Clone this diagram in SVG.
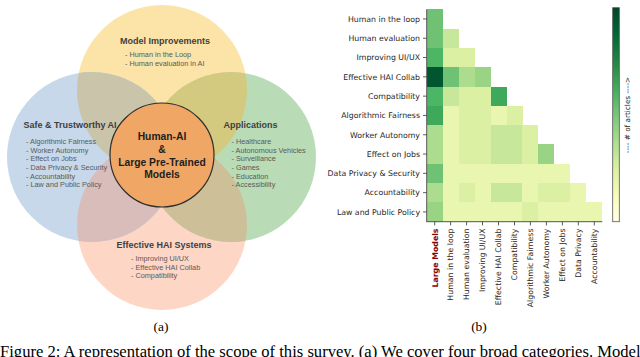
<svg xmlns="http://www.w3.org/2000/svg" width="640" height="357" viewBox="0 0 640 357">
<style>
.vt{font-family:"Liberation Sans",Arial,sans-serif;font-weight:bold;font-size:9px;fill:#3f3f3f;text-anchor:middle}
.vl{font-family:"Liberation Sans",Arial,sans-serif;font-size:7.3px;fill:#5a5a5a}
.ct{font-family:"Liberation Sans",Arial,sans-serif;font-weight:bold;font-size:10.3px;fill:#1e1e1e;text-anchor:middle}
.yl{font-family:"DejaVu Sans",sans-serif;font-size:7.8px;fill:#262626;text-anchor:end}
.xl{font-family:"DejaVu Sans",sans-serif;font-size:7.8px;fill:#262626;text-anchor:end}
.cap{font-family:"Liberation Serif","Times New Roman",serif;fill:#000}
.tk{stroke:#333;stroke-width:0.8}
.L1{fill:#e8f6b0}.L2{fill:#dcf0a4}.L3{fill:#c7e89a}.M1{fill:#acdc8e}.M2{fill:#98d484}.G1{fill:#6fc274}.G2{fill:#4db664}.G3{fill:#3ea95b}.D{fill:#00562f}
</style>
<defs>
<clipPath id="cpTop"><circle cx="162" cy="90" r="85"/></clipPath>
<clipPath id="cpBot"><circle cx="162" cy="225" r="85"/></clipPath>
<linearGradient id="ylgn" x1="0" y1="1" x2="0" y2="0">
<stop offset="0" stop-color="#ffffe5"/><stop offset="0.125" stop-color="#f7fcb9"/><stop offset="0.25" stop-color="#d9f0a3"/><stop offset="0.375" stop-color="#addd8e"/><stop offset="0.5" stop-color="#78c679"/><stop offset="0.625" stop-color="#41ab5d"/><stop offset="0.75" stop-color="#238443"/><stop offset="0.875" stop-color="#006837"/><stop offset="1" stop-color="#004529"/>
</linearGradient>
</defs>
<rect width="640" height="357" fill="#fff"/>

<g id="venn-circles">
<circle cx="162" cy="90" r="85" fill="#fce3a8"/>
<circle cx="162" cy="225" r="85" fill="#fdd6c6"/>
<circle cx="92" cy="157" r="85" fill="#c6d8e9"/>
<circle cx="231" cy="157" r="85" fill="#b9dcb6"/>
<circle cx="92" cy="157" r="85" fill="#c9c4aa" clip-path="url(#cpTop)"/>
<circle cx="231" cy="157" r="85" fill="#d3ca7f" clip-path="url(#cpTop)"/>
<circle cx="92" cy="157" r="85" fill="#d9bdbb" clip-path="url(#cpBot)"/>
<circle cx="231" cy="157" r="85" fill="#cdbf98" clip-path="url(#cpBot)"/>
</g>

<g id="node-model-improvements">
<text class="vt" x="165" y="44">Model Improvements</text>
<text class="vl" x="125" y="57">- Human in the Loop</text>
<text class="vl" x="125" y="65.7">- Human evaluation in AI</text>
</g>

<g id="node-safe-trustworthy">
<text class="vt" x="70" y="128">Safe &amp; Trustworthy AI</text>
<text class="vl" x="26" y="144">- Algorithmic Fairness</text>
<text class="vl" x="26" y="152.7">- Worker Autonomy</text>
<text class="vl" x="26" y="161.3">- Effect on Jobs</text>
<text class="vl" x="26" y="170">- Data Privacy &amp; Security</text>
<text class="vl" x="26" y="178.7">- Accountability</text>
<text class="vl" x="26" y="187.3">- Law and Public Policy</text>
</g>

<g id="node-applications">
<text class="vt" x="250.5" y="128">Applications</text>
<text class="vl" x="231.5" y="144">- Healthcare</text>
<text class="vl" x="231.5" y="152.7">- Autonomous Vehicles</text>
<text class="vl" x="231.5" y="161.3">- Surveillance</text>
<text class="vl" x="231.5" y="170">- Games</text>
<text class="vl" x="231.5" y="178.7">- Education</text>
<text class="vl" x="231.5" y="187.3">- Accessibility</text>
</g>

<g id="node-effective-hai">
<text class="vt" x="164" y="247.7">Effective HAI Systems</text>
<text class="vl" x="131" y="261">- Improving UI/UX</text>
<text class="vl" x="131" y="269.7">- Effective HAI Collab</text>
<text class="vl" x="131" y="278.3">- Compatibility</text>
</g>

<g id="node-center">
<circle cx="162" cy="155" r="52" fill="#f0a665" stroke="#2e2e2e" stroke-width="1.2"/>
<text class="ct" x="162" y="140">Human-AI</text>
<text class="ct" x="162" y="153">&amp;</text>
<text class="ct" x="162" y="166">Large Pre-Trained</text>
<text class="ct" x="162" y="177.5">Models</text>
</g>

<text class="cap" x="161" y="331" font-size="13.5" text-anchor="middle">(a)</text>

<g id="heatmap">
<g id="cells" shape-rendering="crispEdges">
<rect class="G1" x="426.7" y="9.3" width="16" height="19.4"/>
<rect class="G1" x="426.7" y="28.6" width="16" height="19.4"/>
<rect class="L3" x="442.66" y="28.6" width="16" height="19.4"/>
<rect class="G2" x="426.7" y="47.9" width="16" height="19.4"/>
<rect class="L2" x="442.66" y="47.9" width="32" height="19.4"/>
<rect class="D" x="426.7" y="67.2" width="16" height="19.4"/>
<rect class="G1" x="442.66" y="67.2" width="16" height="19.4"/>
<rect class="M1" x="458.62" y="67.2" width="16" height="19.4"/>
<rect class="M2" x="474.58" y="67.2" width="16" height="19.4"/>
<rect class="G2" x="426.7" y="86.5" width="16" height="19.4"/>
<rect class="L3" x="442.66" y="86.5" width="16" height="19.4"/>
<rect class="L2" x="458.62" y="86.5" width="32" height="19.4"/>
<rect class="G3" x="490.54" y="86.5" width="16" height="19.4"/>
<rect class="G3" x="426.7" y="105.8" width="16" height="19.4"/>
<rect class="L1" x="442.66" y="105.8" width="16" height="19.4"/>
<rect class="L2" x="458.62" y="105.8" width="32" height="19.4"/>
<rect class="L1" x="490.54" y="105.8" width="16" height="19.4"/>
<rect class="L2" x="506.5" y="105.8" width="16" height="19.4"/>
<rect class="M1" x="426.7" y="125.1" width="16" height="19.4"/>
<rect class="L1" x="442.66" y="125.1" width="16" height="19.4"/>
<rect class="L2" x="458.62" y="125.1" width="32" height="19.4"/>
<rect class="L3" x="490.54" y="125.1" width="32" height="19.4"/>
<rect class="L2" x="522.46" y="125.1" width="16" height="19.4"/>
<rect class="M1" x="426.7" y="144.4" width="16" height="19.4"/>
<rect class="L1" x="442.66" y="144.4" width="16" height="19.4"/>
<rect class="L2" x="458.62" y="144.4" width="32" height="19.4"/>
<rect class="L3" x="490.54" y="144.4" width="32" height="19.4"/>
<rect class="L2" x="522.46" y="144.4" width="16" height="19.4"/>
<rect class="M2" x="538.42" y="144.4" width="16" height="19.4"/>
<rect class="G1" x="426.7" y="163.7" width="16" height="19.4"/>
<rect class="L1" x="442.66" y="163.7" width="127.7" height="19.4"/>
<rect class="M1" x="426.7" y="183" width="16" height="19.4"/>
<rect class="L1" x="442.66" y="183" width="16" height="19.4"/>
<rect class="L2" x="458.62" y="183" width="16" height="19.4"/>
<rect class="L1" x="474.58" y="183" width="16" height="19.4"/>
<rect class="L3" x="490.54" y="183" width="32" height="19.4"/>
<rect class="L1" x="522.46" y="183" width="16" height="19.4"/>
<rect class="L2" x="538.42" y="183" width="32" height="19.4"/>
<rect class="L1" x="570.34" y="183" width="16" height="19.4"/>
<rect class="M2" x="426.7" y="202.3" width="16" height="19.4"/>
<rect class="L1" x="442.66" y="202.3" width="79.8" height="19.4"/>
<rect class="L2" x="522.46" y="202.3" width="16" height="19.4"/>
<rect class="L1" x="538.42" y="202.3" width="63.9" height="19.4"/>
</g>
<g id="axes">
<line x1="426.7" y1="9.3" x2="426.7" y2="221.7" stroke="#555" stroke-width="1"/>
<line x1="426.2" y1="221.7" x2="602.3" y2="221.7" stroke="#555" stroke-width="1"/>
<g class="tk">
<line x1="423" y1="18.95" x2="426.7" y2="18.95"/>
<line x1="423" y1="38.25" x2="426.7" y2="38.25"/>
<line x1="423" y1="57.55" x2="426.7" y2="57.55"/>
<line x1="423" y1="76.85" x2="426.7" y2="76.85"/>
<line x1="423" y1="96.15" x2="426.7" y2="96.15"/>
<line x1="423" y1="115.45" x2="426.7" y2="115.45"/>
<line x1="423" y1="134.75" x2="426.7" y2="134.75"/>
<line x1="423" y1="154.05" x2="426.7" y2="154.05"/>
<line x1="423" y1="173.35" x2="426.7" y2="173.35"/>
<line x1="423" y1="192.65" x2="426.7" y2="192.65"/>
<line x1="423" y1="211.95" x2="426.7" y2="211.95"/>
<line x1="434.7" y1="221.7" x2="434.7" y2="225.4"/>
<line x1="450.6" y1="221.7" x2="450.6" y2="225.4"/>
<line x1="466.6" y1="221.7" x2="466.6" y2="225.4"/>
<line x1="482.5" y1="221.7" x2="482.5" y2="225.4"/>
<line x1="498.5" y1="221.7" x2="498.5" y2="225.4"/>
<line x1="514.5" y1="221.7" x2="514.5" y2="225.4"/>
<line x1="530.4" y1="221.7" x2="530.4" y2="225.4"/>
<line x1="546.4" y1="221.7" x2="546.4" y2="225.4"/>
<line x1="562.4" y1="221.7" x2="562.4" y2="225.4"/>
<line x1="578.3" y1="221.7" x2="578.3" y2="225.4"/>
<line x1="594.3" y1="221.7" x2="594.3" y2="225.4"/>
</g>
</g>
<g id="y-labels">
<text class="yl" x="420" y="21.7">Human in the loop</text>
<text class="yl" x="420" y="41">Human evaluation</text>
<text class="yl" x="420" y="60.3">Improving UI/UX</text>
<text class="yl" x="420" y="79.6">Effective HAI Collab</text>
<text class="yl" x="420" y="98.9">Compatibility</text>
<text class="yl" x="420" y="118.2">Algorithmic Fairness</text>
<text class="yl" x="420" y="137.5">Worker Autonomy</text>
<text class="yl" x="420" y="156.8">Effect on Jobs</text>
<text class="yl" x="420" y="176.1">Data Privacy &amp; Security</text>
<text class="yl" x="420" y="195.4">Accountability</text>
<text class="yl" x="420" y="214.7">Law and Public Policy</text>
</g>
<g id="x-labels">
<text class="xl" x="437.5" y="228.5" transform="rotate(-90 437.5 228.5)" style="fill:#8b0000;font-weight:bold">Large Models</text>
<text class="xl" x="453.4" y="228.5" transform="rotate(-90 453.4 228.5)">Human in the loop</text>
<text class="xl" x="469.4" y="228.5" transform="rotate(-90 469.4 228.5)">Human evaluation</text>
<text class="xl" x="485.3" y="228.5" transform="rotate(-90 485.3 228.5)">Improving UI/UX</text>
<text class="xl" x="501.3" y="228.5" transform="rotate(-90 501.3 228.5)">Effective HAI Collab</text>
<text class="xl" x="517.3" y="228.5" transform="rotate(-90 517.3 228.5)">Compatibility</text>
<text class="xl" x="533.2" y="228.5" transform="rotate(-90 533.2 228.5)">Algorithmic Fairness</text>
<text class="xl" x="549.2" y="228.5" transform="rotate(-90 549.2 228.5)">Worker Autonomy</text>
<text class="xl" x="565.2" y="228.5" transform="rotate(-90 565.2 228.5)">Effect on Jobs</text>
<text class="xl" x="581.1" y="228.5" transform="rotate(-90 581.1 228.5)">Data Privacy</text>
<text class="xl" x="597.1" y="228.5" transform="rotate(-90 597.1 228.5)">Accountability</text>
</g>
<g id="colorbar">
<rect x="612.7" y="7.7" width="6.6" height="214" fill="url(#ylgn)" stroke="#555" stroke-width="0.8"/>
<text x="630" y="115" transform="rotate(-90 630 115)" font-family="DejaVu Sans, sans-serif" font-size="7.3" fill="#262626" text-anchor="middle">---- # of articles ----&gt;</text>
</g>
</g>

<text class="cap" x="479" y="331" font-size="13.5" text-anchor="middle">(b)</text>
<text class="cap" x="0" y="356.5" font-size="16.6">Figure 2: A representation of the scope of this survey. (a) We cover four broad categories. Model</text>
</svg>
